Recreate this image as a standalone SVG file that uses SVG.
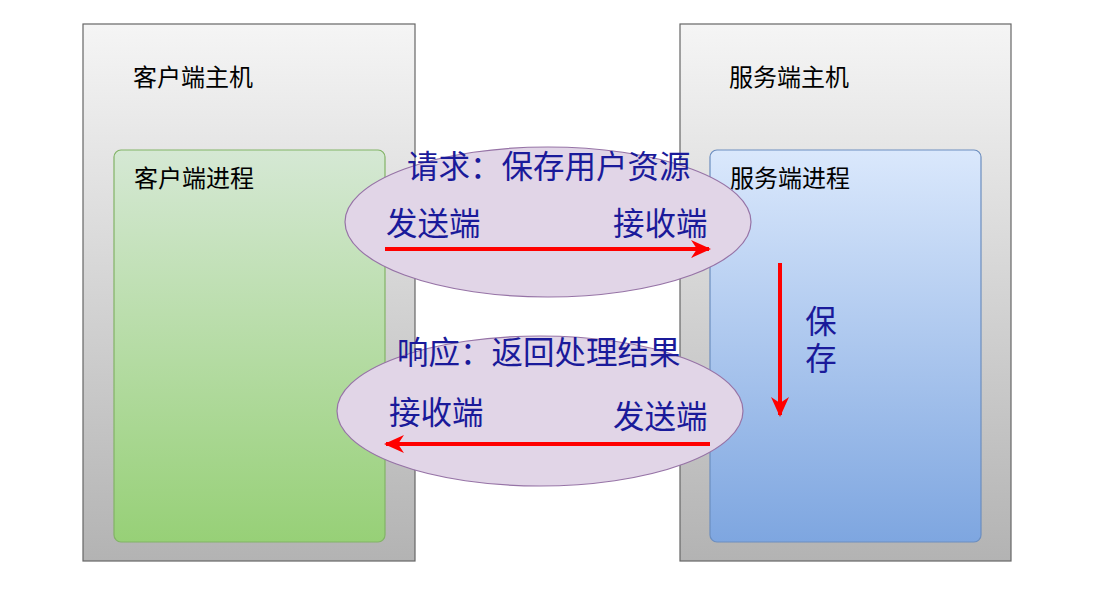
<svg xmlns="http://www.w3.org/2000/svg" width="1104" height="594" viewBox="0 0 1104 594">
<defs>
<linearGradient id="gHost" x1="0" y1="0" x2="0" y2="1"><stop offset="0" stop-color="#f5f5f5"/><stop offset="1" stop-color="#b3b3b3"/></linearGradient>
<linearGradient id="gGreen" x1="0" y1="0" x2="0" y2="1"><stop offset="0" stop-color="#d5e8d4"/><stop offset="1" stop-color="#97d077"/></linearGradient>
<linearGradient id="gBlue" x1="0" y1="0" x2="0" y2="1"><stop offset="0" stop-color="#dae8fc"/><stop offset="1" stop-color="#7ea6e0"/></linearGradient>
<marker id="ah" viewBox="0 0 10 10" refX="9" refY="5" markerWidth="5" markerHeight="4.5" markerUnits="strokeWidth" orient="auto" preserveAspectRatio="none"><path d="M0,0 L10,5 L0,10 L3,5 Z" fill="#ff0000"/></marker>
</defs>
<style>
.host{fill:url(#gHost);stroke:#666666;stroke-width:1.2}
.green{fill:url(#gGreen);stroke:#82b366;stroke-width:1.2}
.blue{fill:url(#gBlue);stroke:#6c8ebf;stroke-width:1.2}
.ell{fill:#e1d5e7;stroke:#9673a6;stroke-width:1.2}
.lbl{font-family:"Noto Sans CJK SC","Microsoft YaHei",sans-serif;font-size:24px;fill:#000000}
.big{font-family:"Noto Sans CJK SC","Microsoft YaHei",sans-serif;font-size:31.5px;fill:#1a1a9a}
.vert{writing-mode:vertical-rl;letter-spacing:6px}
.arr{stroke:#ff0000;stroke-width:4;fill:none;marker-end:url(#ah)}
</style>
<rect width="1104" height="594" fill="#ffffff"/>
<g id="client-host"><rect class="host" x="83" y="24" width="332" height="537"/><text class="lbl" x="133" y="86">客户端主机</text></g>
<g id="server-host"><rect class="host" x="680" y="24" width="331" height="537"/><text class="lbl" x="729" y="86">服务端主机</text></g>
<g id="client-process"><rect class="green" x="114" y="150" width="271" height="392" rx="7"/><text class="lbl" x="134" y="187">客户端进程</text></g>
<g id="server-process"><rect class="blue" x="710" y="150" width="271" height="392" rx="7"/><text class="lbl" x="730" y="187">服务端进程</text></g>
<g id="request"><ellipse class="ell" cx="548" cy="222" rx="203" ry="75"/><text class="big" x="407" y="178">请求：保存用户资源</text><text class="big" x="386" y="235">发送端</text><text class="big" x="613" y="235">接收端</text></g>
<g id="response"><ellipse class="ell" cx="540" cy="411" rx="203" ry="75"/><text class="big" x="397" y="364">响应：返回处理结果</text><text class="big" x="389" y="424">接收端</text><text class="big" x="613" y="428">发送端</text></g>
<g id="save-label"><text class="big vert" x="821" y="305">保存</text></g>
<g id="connectors">
<line class="arr" x1="385" y1="249" x2="709" y2="249"/>
<line class="arr" x1="710" y1="444" x2="386" y2="444"/>
<line class="arr" x1="780" y1="263" x2="780" y2="415"/>
</g>
</svg>
